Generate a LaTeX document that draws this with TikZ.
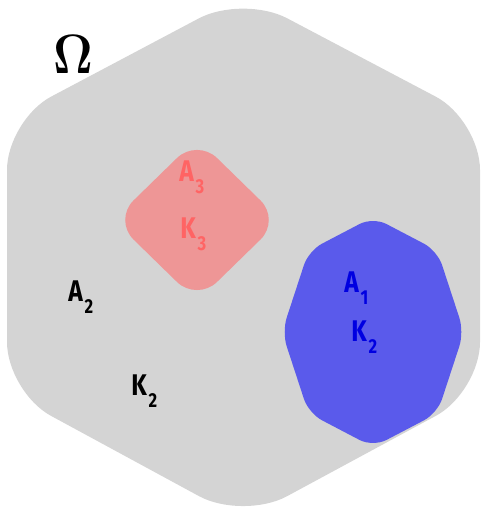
\documentclass[tikz,border=0pt]{standalone}
\usepackage[no-math]{fontspec}
\newfontfamily\tagfont[FakeStretch=0.82]{Fira Sans}
\usepackage{tikz}

\definecolor{domgray}{RGB}{212,212,212}
\definecolor{pinkfill}{RGB}{238,150,150}
\definecolor{pinktext}{RGB}{255,100,100}
\definecolor{bluefill}{RGB}{90,90,235}
\definecolor{bluetext}{RGB}{0,0,225}

%% label with a low, large subscript
\newcommand{\setlab}[2]{#1\hspace{1pt}\raisebox{-6.3pt}{\fontsize{11.5}{12}\selectfont #2}}

\begin{document}
\begin{tikzpicture}[
  %% ── region styles ──────────────────────────────────────────────────
  DOM/.style ={fill=domgray, rounded corners=1.0cm},
  SQR/.style ={fill=pinkfill, rounded corners=0.56cm},
  OCT/.style ={fill=bluefill, rounded corners=0.3cm},
  %% labels
  lab/.style ={inner sep=0pt, anchor=base west,
               font=\tagfont\bfseries\fontsize{17}{20}\selectfont},
]

\useasboundingbox (0,0) rectangle (9.66,10.2);

%% Omega — rounded hexagon
\fill[DOM] (4.86,10.30) -- (9.60,7.80) -- (9.60,2.36)
        -- (4.86,-0.20) -- (0.14,2.36) -- (0.14,7.80) -- cycle;

%% K3 — rounded square, corner up
\fill[SQR] (3.94,7.43) -- (5.61,5.80) -- (3.94,4.17) -- (2.27,5.80) -- cycle;

%% K2 — rounded octagon
\fill[OCT, shift={(7.46,3.56)}]
  (0:1.82 and 2.30) -- (45:1.82 and 2.30) -- (90:1.82 and 2.30)
  -- (135:1.82 and 2.30) -- (180:1.82 and 2.30) -- (225:1.82 and 2.30)
  -- (270:1.82 and 2.30) -- (315:1.82 and 2.30) -- cycle;

%% ── labels ─────────────────────────────────────────────────────────
\node[inner sep=0pt, font=\fontsize{24.88}{28}\selectfont] (omega) at (1.46,9.12)
  {\scalebox{1.12}[1.27]{$\mathbf{\Omega}$}};

\node[lab, text=pinktext]  (a3) at (3.58,6.56) {\setlab{A}{3}};
\node[lab, text=pinktext]  (k3) at (3.60,5.42) {\setlab{K}{3}};

\node[lab]                 (a2) at (1.36,4.16) {\setlab{A}{2}};
\node[lab]                 (k2) at (2.62,2.28) {\setlab{K}{2}};

\node[lab, text=bluetext]  (a1) at (6.88,4.34) {\setlab{A}{1}};
\node[lab, text=bluetext]  (k2b) at (7.02,3.36) {\setlab{K}{2}};

\end{tikzpicture}
\end{document}
